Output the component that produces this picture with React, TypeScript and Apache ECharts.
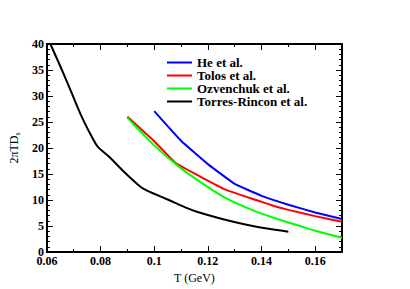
import React, { useEffect, useRef } from "react";
import * as echarts from "echarts";

const heT = [0.1, 0.11, 0.12, 0.13, 0.14, 0.15, 0.16, 0.17];
const heV = [27.1, 21.4, 16.9, 13.1, 10.8, 9.1, 7.6, 6.35];

const tolosT = [0.09, 0.1, 0.108, 0.1175, 0.1265, 0.138, 0.145, 0.15, 0.16, 0.17];
const tolosV = [26, 21.3, 17.1, 14.4, 12.0, 10.0, 8.8, 8.1, 6.9, 5.8];

const ozvT = [0.09, 0.1, 0.108, 0.1156, 0.1265, 0.1378, 0.145, 0.155, 0.16, 0.17];
const ozvV = [25.8, 20.5, 16.9, 14.0, 10.4, 7.8, 6.5, 4.9, 4.1, 2.75];

const torresT = [0.0613, 0.0656, 0.0693, 0.073, 0.0767, 0.079, 0.083, 0.089, 0.095, 0.0975, 0.1, 0.105, 0.1125, 0.1156, 0.125, 0.134, 0.142, 0.15];
const torresV = [40, 35, 30.5, 26, 22.2, 20.2, 18.4, 15.3, 12.5, 11.75, 11.2, 10.1, 8.4, 7.8, 6.4, 5.3, 4.5, 3.9];

const seriesNames = ["He et al.", "Tolos et al.", "Ozvenchuk et al.", "Torres-Rincon et al."];
const seriesColors = ["#0000ff", "#ff0000", "#00ff00", "#000000"];
const seriesSmooth = [0.1, 0.1, 0.3, 0.25];

const xMin = 0.06;
const xMax = 0.17;
const yMin = 0;
const yMax = 40;

const FONT = "Liberation Serif";

function pairs(t: number[], v: number[]) {
  return t.map((x, i) => [x, v[i]]);
}

export default function App() {
  const ref = useRef<HTMLDivElement>(null);
  useEffect(() => {
    if (!ref.current) return;
    const chart = echarts.init(ref.current, null, { renderer: "svg" });
    const dataSets = [pairs(heT, heV), pairs(tolosT, tolosV), pairs(ozvT, ozvV), pairs(torresT, torresV)];
    const labelStyle = { fontFamily: FONT, fontWeight: "bold" as const, fontSize: 12, color: "#000" };
    const baseX = (pos: "bottom" | "top", interval: number, len: number, showLine: boolean, showLabel: boolean, name?: string) => ({
      type: "value",
      position: pos,
      min: xMin,
      max: xMax,
      interval,
      name: name,
      nameLocation: "middle",
      nameGap: 14,
      nameTextStyle: { fontFamily: FONT, fontSize: 12, color: "#000" },
      axisLine: { show: showLine, onZero: false, lineStyle: { color: "#000", width: 2 } },
      axisTick: { show: true, inside: true, length: len, lineStyle: { color: "#000", width: 1 } },
      axisLabel: { show: showLabel, margin: 3, showMaxLabel: false, ...labelStyle },
      splitLine: { show: false },
    });
    const baseY = (pos: "left" | "right", showLabel: boolean, name?: string) => ({
      type: "value",
      position: pos,
      min: yMin,
      max: yMax,
      interval: 5,
      name: name,
      nameLocation: "middle",
      nameGap: 19,
      nameTextStyle: {
        fontFamily: FONT,
        fontSize: 12,
        color: "#000",
        rich: { s: { fontFamily: FONT, fontSize: 8, color: "#000", verticalAlign: "bottom", padding: [6, 0, 0, 0] } },
      },
      axisLine: { show: true, onZero: false, lineStyle: { color: "#000", width: 2 } },
      axisTick: { show: true, inside: true, length: 6, lineStyle: { color: "#000", width: 1 } },
      minorTick: { show: true, splitNumber: 5, length: 3, lineStyle: { color: "#000", width: 1 } },
      axisLabel: { show: showLabel, margin: 3, ...labelStyle },
      splitLine: { show: false },
      minorSplitLine: { show: false },
    });
    chart.setOption({
      animation: false,
      backgroundColor: "#fff",
      grid: { left: 45, right: 68, top: 44, bottom: 37, containLabel: false },
      legend: {
        orient: "vertical",
        left: 167,
        top: 56,
        padding: 0,
        icon: "rect",
        itemWidth: 25,
        itemHeight: 2,
        itemGap: 0,
        textStyle: { fontFamily: FONT, fontWeight: "bold", fontSize: 13, color: "#000", lineHeight: 11.8 },
        data: seriesNames,
      },
      xAxis: [
        baseX("bottom", 0.02, 6, true, true, "T (GeV)"),
        baseX("bottom", 0.01, 3, false, false),
        baseX("top", 0.02, 6, true, false),
        baseX("top", 0.01, 3, false, false),
      ],
      yAxis: [baseY("left", true, "2πTD{s|s}"), baseY("right", false)],
      series: seriesNames.map((n, i) => ({
        name: n,
        type: "line",
        xAxisIndex: 0,
        yAxisIndex: 0,
        data: dataSets[i],
        symbol: "none",
        showSymbol: false,
        smooth: seriesSmooth[i],
        color: seriesColors[i],
        itemStyle: { color: seriesColors[i] },
        lineStyle: { color: seriesColors[i], width: 2 },
      })),
    });
    return () => chart.dispose();
  }, []);
  return <div ref={ref} style={{ position: "fixed", left: 0, top: 0, width: 410, height: 289 }} />;
}
